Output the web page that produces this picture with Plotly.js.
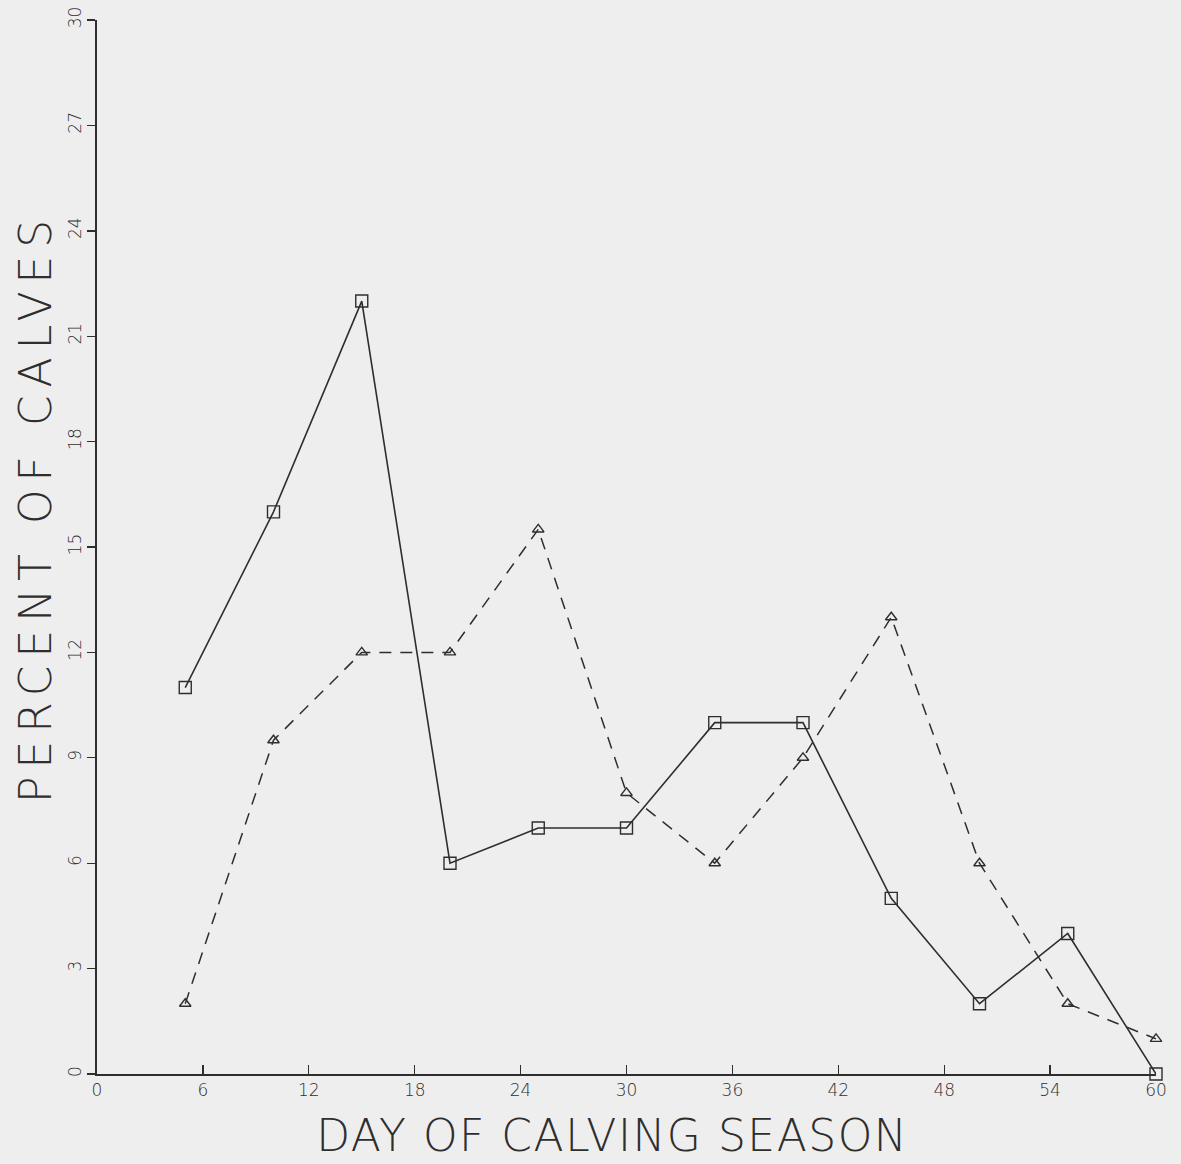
<!DOCTYPE html>
<html>
<head>
<meta charset="utf-8">
<script src="https://cdn.plot.ly/plotly-3.0.1.min.js"></script>
<style>
html,body{margin:0;padding:0;background:#eeeeee;}
#chart{width:1181px;height:1164px;}
</style>
</head>
<body>
<div id="chart"></div>
<script>
// Day of calving season
const days = [5, 10, 15, 20, 25, 30, 35, 40, 45, 50, 55, 60];
// Percent of calves, series drawn with squares and solid line
const squareSeries = [11, 16, 22, 6, 7, 7, 10, 10, 5, 2, 4, 0];
// Percent of calves, series drawn with triangles and dashed line
const triangleSeries = [2, 9.5, 12, 12, 15.5, 8, 6, 9, 13, 6, 2, 1];
const xTicks = [0, 6, 12, 18, 24, 30, 36, 42, 48, 54, 60];
const yTicks = [0, 3, 6, 9, 12, 15, 18, 21, 24, 27, 30];
const xTitle = 'DAY OF CALVING SEASON';
const yTitle = 'PERCENT OF CALVES';

const ink = '#2e2e2e';
const font = '"DejaVu Sans", sans-serif';
const thinFont = {family: font, color: ink, weight: 200};

const traces = [
  {
    x: days, y: squareSeries, type: 'scatter', mode: 'lines+markers',
    line: {color: ink, width: 1.6},
    marker: {symbol: 'square-open', size: 12, color: ink, line: {width: 1.4, color: ink}},
    cliponaxis: false, showlegend: false
  },
  {
    x: days, y: triangleSeries, type: 'scatter', mode: 'lines+markers',
    line: {color: ink, width: 1.5, dash: '12px,9px'},
    marker: {symbol: 'triangle-up-open', size: 10, color: ink, line: {width: 1.4, color: ink}},
    cliponaxis: false, showlegend: false
  }
];

const layout = {
  width: 1181, height: 1164,
  margin: {l: 97, r: 25, t: 20, b: 90},
  paper_bgcolor: '#eeeeee', plot_bgcolor: '#eeeeee',
  font: {family: font, color: ink},
  xaxis: {
    range: [0, 60], tickvals: xTicks, ticktext: xTicks.map(String),
    showgrid: false, zeroline: false, showline: true, linecolor: ink, linewidth: 1.6,
    ticks: 'inside', ticklen: 9, tickwidth: 1.4, tickcolor: ink,
    tickfont: Object.assign({size: 17}, thinFont)
  },
  yaxis: {
    range: [0, 30], tickvals: yTicks, ticktext: yTicks.map(String),
    showgrid: false, zeroline: false, showline: true, linecolor: ink, linewidth: 1.6,
    ticks: 'outside', ticklen: 8, tickwidth: 1.4, tickcolor: ink, tickangle: -90,
    tickfont: Object.assign({size: 17}, thinFont)
  },
  annotations: [
    {
      text: xTitle, xref: 'paper', yref: 'paper', x: 0.486, y: -0.058,
      xanchor: 'center', yanchor: 'middle', showarrow: false,
      font: Object.assign({size: 44}, thinFont)
    },
    {
      text: yTitle, xref: 'paper', yref: 'paper', x: -0.0585, y: 0.537,
      xanchor: 'center', yanchor: 'middle', showarrow: false, textangle: -90,
      font: Object.assign({size: 44}, thinFont)
    }
  ]
};

Plotly.newPlot('chart', traces, layout, {displayModeBar: false, staticPlot: true}).then(function (gd) {
  const texts = gd.querySelectorAll('.annotation-text');
  if (texts[0]) texts[0].style.letterSpacing = '1.5px';
  if (texts[1]) texts[1].style.letterSpacing = '8px';
});
</script>
</body>
</html>
